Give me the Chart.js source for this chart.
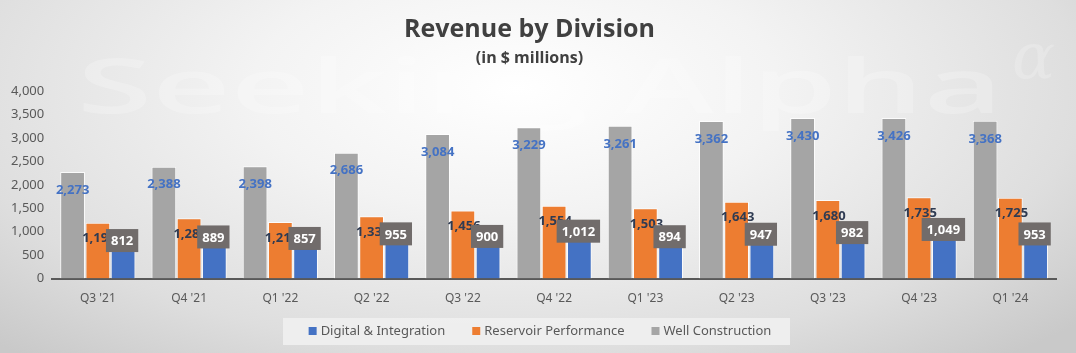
<!DOCTYPE html>
<html>
<head>
<meta charset="utf-8">
<script src="https://cdn.jsdelivr.net/npm/chart.js@4/dist/chart.umd.min.js"></script>
<style>
html,body{margin:0;padding:0;}
body{width:1076px;height:353px;overflow:hidden;
background:radial-gradient(ellipse 70% 100% at 48% 25%, #ffffff 0%, #f3f3f3 35%, #dedede 75%, #c9c9c9 100%);}
#wrap{position:absolute;left:0;top:0;width:1076px;height:353px;}
</style>
</head>
<body>
<div id="wrap"><canvas id="c" width="1076" height="353"></canvas></div>
<script>
const categories = ["Q3 '21","Q4 '21","Q1 '22","Q2 '22","Q3 '22","Q4 '22","Q1 '23","Q2 '23","Q3 '23","Q4 '23","Q1 '24"];
const wellConstruction = [2273,2388,2398,2686,3084,3229,3261,3362,3430,3426,3368];
const reservoirPerformance = [1192,1287,1210,1333,1456,1554,1503,1643,1680,1735,1725];
const digitalIntegration = [812,889,857,955,900,1012,894,947,982,1049,953];
const yTicks = [0,500,1000,1500,2000,2500,3000,3500,4000];
const legendOrder = [2,1,0];

const fmt = v => v.toLocaleString('en-US');

const background = {
  id:'bgDecor',
  beforeDraw(chart){
    const ctx = chart.ctx;
    ctx.save();
    ctx.font = '600 76px "Open Sans", sans-serif';
    ctx.fillStyle = 'rgba(255,255,255,0.22)';
    ctx.textBaseline = 'alphabetic';
    ctx.textAlign = 'left';
    const wm = 'Seeking Alpha';
    const w = ctx.measureText(wm).width;
    ctx.translate(77, 113);
    ctx.scale(926 / w, 1);
    ctx.fillText(wm, 0, 0);
    ctx.restore();
    ctx.save();
    ctx.font = 'italic 64px "DejaVu Serif", serif';
    ctx.fillStyle = 'rgba(255,255,255,0.2)';
    ctx.textAlign = 'left';
    ctx.fillText('\u03B1', 1012, 78);
    ctx.restore();
    ctx.save();
    ctx.fillStyle = 'rgba(240,240,240,0.9)';
    ctx.fillRect(283, 318, 507, 27);
    ctx.restore();
  },
  afterDraw(chart){
    const ctx = chart.ctx;
    ctx.save();
    ctx.font = '13px "Noto Sans", sans-serif';
    ctx.textBaseline = 'middle';
    ctx.textAlign = 'left';
    const box = 8, gapBox = 4, gapItem = 27;
    const items = legendOrder.map(i => {
      const ds = chart.data.datasets[i];
      return {text: ds.label, color: ds.backgroundColor, w: box + gapBox + ctx.measureText(ds.label).width};
    });
    const total = items.reduce((s, it) => s + it.w, 0) + gapItem * (items.length - 1);
    let x = 540 - total / 2;
    const cy = 331;
    items.forEach(it => {
      ctx.fillStyle = it.color;
      ctx.fillRect(x, cy - 4, box, box);
      ctx.fillStyle = '#595959';
      ctx.fillText(it.text, x + box + gapBox, cy);
      x += it.w + gapItem;
    });
    ctx.restore();
  }
};

const labels = {
  id:'barLabels',
  afterDatasetsDraw(chart){
    const ctx = chart.ctx;
    ctx.save();
    ctx.textAlign = 'center';
    ctx.textBaseline = 'middle';
    chart.data.datasets.forEach((ds, di) => {
      const meta = chart.getDatasetMeta(di);
      meta.data.forEach((el, i) => {
        const t = fmt(ds.data[i]);
        ctx.font = 'bold 13px "Open Sans", sans-serif';
        if (di === 0) {
          ctx.fillStyle = '#4472C4';
          ctx.fillText(t, el.x, el.y + 18);
        } else if (di === 1) {
          ctx.fillStyle = '#2F3B52';
          ctx.fillText(t, el.x + 1, el.y + 16);
        } else {
          const w = ctx.measureText(t).width + 10;
          const h = 23;
          const cx = el.x - 1;
          ctx.fillStyle = '#716C6B';
          ctx.fillRect(cx - w/2, el.y - h/2, w, h);
          ctx.fillStyle = '#ffffff';
          ctx.fillText(t, cx, el.y + 1);
        }
      });
    });
    ctx.restore();
  }
};

new Chart(document.getElementById('c'), {
  type:'bar',
  data:{
    labels: categories,
    datasets:[
      {label:'Well Construction', data: wellConstruction, backgroundColor:'#A5A5A5', borderColor:'rgba(255,255,255,0.8)', borderWidth:1},
      {label:'Reservoir Performance', data: reservoirPerformance, backgroundColor:'#ED7D31', borderColor:'rgba(255,255,255,0.8)', borderWidth:1},
      {label:'Digital & Integration', data: digitalIntegration, backgroundColor:'#4472C4', borderColor:'rgba(255,255,255,0.8)', borderWidth:1}
    ]
  },
  options:{
    responsive:false,
    animation:false,
    layout:{padding:{left:3,right:20,top:3,bottom:34}},
    datasets:{bar:{categoryPercentage:0.83, barPercentage:0.98}},
    plugins:{
      title:{display:true, text:'Revenue by Division', color:'#404040',
        font:{family:'"Open Sans", sans-serif', size:25, weight:'bold'}, padding:{top:12,bottom:4}},
      subtitle:{display:true, text:'(in $ millions)', color:'#404040',
        font:{family:'"Open Sans", sans-serif', size:16, weight:'bold'}, padding:{top:0,bottom:23}},
      legend:{display:false},
      tooltip:{enabled:false}
    },
    scales:{
      x:{grid:{display:false, drawTicks:false},
         border:{display:true, color:'#595959', width:2},
         ticks:{color:'#595959', padding:13, font:{family:'"Noto Sans", sans-serif', size:12}}},
      y:{min:0, max:4000,
         afterBuildTicks: s => { s.ticks = yTicks.map(v=>({value:v})); },
         grid:{display:false, drawTicks:false},
         border:{display:false},
         ticks:{color:'#595959', padding:8, font:{family:'"Noto Sans", sans-serif', size:13},
           callback: v => fmt(v)}}
    }
  },
  plugins:[background, labels]
});
</script>
</body>
</html>
